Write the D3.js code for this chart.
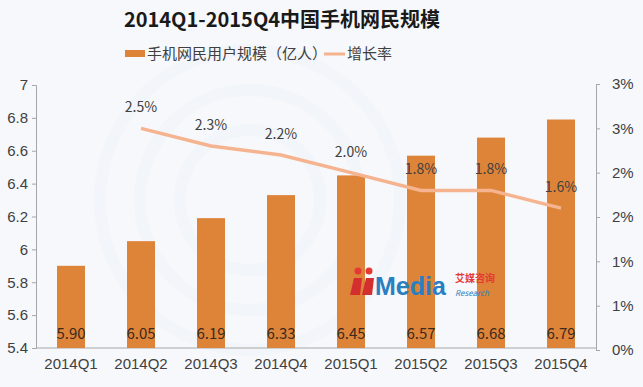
<!DOCTYPE html>
<html lang="zh">
<head>
<meta charset="UTF-8">
<title>2014Q1-2015Q4中国手机网民规模</title>
<style>
  body { margin: 0; background: #f6f8fb; }
  svg { display: block; font-family: "Noto Sans CJK SC", "Microsoft YaHei", sans-serif; }
  .tick text { font-size: 15px; fill: #404040; }
  .domain, .tick line { stroke: #a6a6a6; }
</style>
</head>
<body>
<svg id="chart" width="643" height="387"></svg>
<script src="https://d3js.org/d3.v7.min.js"></script>
<script>
// 数据
const quarters = ["2014Q1","2014Q2","2014Q3","2014Q4","2015Q1","2015Q2","2015Q3","2015Q4"];
const users = [5.90, 6.05, 6.19, 6.33, 6.45, 6.57, 6.68, 6.79];
const growth = [null, 0.025, 0.023, 0.022, 0.020, 0.018, 0.018, 0.016];
const leftTicks = [5.4, 5.6, 5.8, 6, 6.2, 6.4, 6.6, 6.8, 7];
const rightTicks = [0, 0.005, 0.01, 0.015, 0.02, 0.025, 0.03];
const rightTickLabels = ["0%", "1%", "1%", "2%", "2%", "3%", "3%"];

const barColor = "#de8439", lineColor = "#f5b48f";
const m = {left: 36, right: 47, top: 85, bottom: 39};
const W = 643, H = 387;

const svg = d3.select("#chart");

// 背景淡纹
const bg = svg.append("g");
[150, 110, 70].forEach(r => {
  bg.append("circle").attr("cx", 250).attr("cy", 200).attr("r", r)
    .attr("fill", "none").attr("stroke", "#f2f5f9").attr("stroke-width", 12);
});

const x = d3.scaleBand().domain(quarters).range([m.left, W - m.right]).paddingInner(0.6).paddingOuter(0.3);
const y = d3.scaleLinear().domain([5.4, 7]).range([H - m.bottom, m.top]);
const y2 = d3.scaleLinear().domain([0, 0.03]).range([H - m.bottom + 2, m.top - 1]);

// 标题
svg.append("text").attr("x", 282).attr("y", 27).attr("text-anchor", "middle")
  .attr("font-size", 20).attr("font-weight", "bold").attr("fill", "#1a1a1a")
  .text("2014Q1-2015Q4中国手机网民规模");

// 图例
const lg = svg.append("g").attr("font-size", 15).attr("fill", "#404040");
lg.append("rect").attr("x", 125).attr("y", 50).attr("width", 20).attr("height", 7).attr("fill", barColor);
lg.append("text").attr("x", 147).attr("y", 59).text("手机网民用户规模（亿人）");
lg.append("line").attr("x1", 324).attr("x2", 345).attr("y1", 54).attr("y2", 54)
  .attr("stroke", lineColor).attr("stroke-width", 3);
lg.append("text").attr("x", 347).attr("y", 59).text("增长率");

// 坐标轴
svg.append("g").attr("transform", `translate(${m.left},0)`)
  .call(d3.axisLeft(y).tickValues(leftTicks).tickFormat(d3.format("")).tickSize(4).tickPadding(4));
svg.append("g").attr("transform", `translate(${W - m.right},0)`)
  .call(d3.axisRight(y2).tickValues(rightTicks).tickFormat((d, i) => rightTickLabels[i]).tickSize(4).tickPadding(12));
svg.append("g").attr("transform", `translate(0,${H - m.bottom})`)
  .call(d3.axisBottom(x).tickSize(0).tickPadding(10))
  .call(g => g.select(".domain").attr("d", `M${m.left},0H${W - m.right}`));

// 柱
svg.append("g").selectAll("rect").data(quarters).join("rect")
  .attr("x", d => x(d)).attr("width", x.bandwidth())
  .attr("y", (d, i) => y(users[i])).attr("height", (d, i) => y(5.4) - y(users[i]))
  .attr("fill", barColor);
svg.append("g").selectAll("text").data(quarters).join("text")
  .attr("x", d => x(d) + x.bandwidth() / 2).attr("y", y(5.4) - 9)
  .attr("text-anchor", "middle").attr("font-size", 15).attr("fill", "#3b2a1c")
  .text((d, i) => users[i].toFixed(2));

// 水印
const wm = svg.append("g");
wm.append("circle").attr("cx", 358).attr("cy", 271).attr("r", 3.5).attr("fill", "#e53935");
wm.append("circle").attr("cx", 369).attr("cy", 271).attr("r", 3.5).attr("fill", "#e53935");
wm.append("path").attr("d", "M354,278 L362,278 L360,295 L350,295 Z M366,278 L374,278 L372,295 L362,295 Z")
  .attr("fill", "#d32f2f");
wm.append("text").attr("x", 375).attr("y", 295).attr("font-size", 25).attr("font-weight", "bold")
  .attr("fill", "#2b7fc1").attr("font-family", "Arial, sans-serif").text("Media");
wm.append("text").attr("x", 455).attr("y", 282).attr("font-size", 10).attr("font-weight", "bold")
  .attr("fill", "#e53935").text("艾媒咨询");
wm.append("text").attr("x", 455).attr("y", 296).attr("font-size", 8).attr("font-style", "italic")
  .attr("fill", "#2b7fc1").text("Research");

// 增长率线
const pts = quarters.map((q, i) => ({q, v: growth[i]})).filter(d => d.v != null);
svg.append("path").datum(pts)
  .attr("fill", "none").attr("stroke", lineColor).attr("stroke-width", 3.5)
  .attr("d", d3.line().x(d => x(d.q) + x.bandwidth() / 2).y(d => y2(d.v)));
svg.append("g").selectAll("text").data(pts).join("text")
  .attr("x", d => x(d.q) + x.bandwidth() / 2).attr("y", d => y2(d.v) - 16)
  .attr("text-anchor", "middle").attr("font-size", 14).attr("fill", "#404040")
  .text(d => d3.format(".1%")(d.v));
</script>
</body>
</html>
